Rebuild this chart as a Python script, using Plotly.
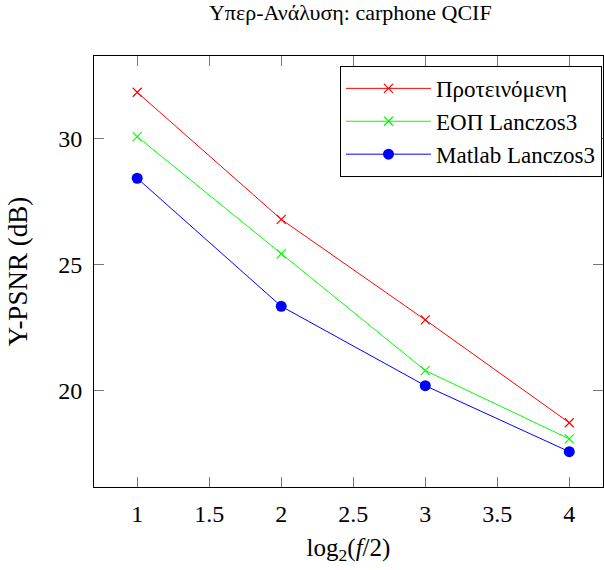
import plotly.graph_objects as go

x_vals = [1, 2, 3, 4]
proposed = [31.85, 26.81, 22.82, 18.74]
eop_lanczos3 = [30.09, 25.44, 20.81, 18.10]
matlab_lanczos3 = [28.44, 23.36, 20.21, 17.59]
x_ticks = [1, 1.5, 2, 2.5, 3, 3.5, 4]
x_tick_labels = ["1", "1.5", "2", "2.5", "3", "3.5", "4"]
y_ticks = [20, 25, 30]

FONT = "Liberation Serif"

fig = go.Figure()
fig.add_trace(go.Scatter(
    x=x_vals, y=proposed, name="Προτεινόμενη", mode="lines+markers",
    line=dict(color="#ff0000", width=1),
    marker=dict(symbol="x-thin", size=9, line=dict(color="#ff0000", width=1.2)),
))
fig.add_trace(go.Scatter(
    x=x_vals, y=eop_lanczos3, name="ΕΟΠ Lanczos3", mode="lines+markers",
    line=dict(color="#00ff00", width=1),
    marker=dict(symbol="x-thin", size=9, line=dict(color="#00ff00", width=1.2)),
))
fig.add_trace(go.Scatter(
    x=x_vals, y=matlab_lanczos3, name="Matlab Lanczos3", mode="lines+markers",
    line=dict(color="#0000ff", width=1),
    marker=dict(symbol="circle", size=11, color="#0000ff"),
))

axis_common = dict(
    showline=True, linecolor="black", linewidth=1, mirror="allticks",
    ticks="inside", ticklen=10, tickwidth=1, tickcolor="#777",
    showgrid=False, zeroline=False,
    tickfont=dict(family=FONT, size=24, color="black"),
)

fig.update_layout(
    width=604, height=570,
    margin=dict(l=94, r=1, t=56, b=83),
    paper_bgcolor="white", plot_bgcolor="white",
    font=dict(family=FONT, size=24, color="black"),
    title=dict(text="Υπερ-Ανάλυση: carphone QCIF", x=0.58, xanchor="center",
               y=0.978, yanchor="middle", font=dict(family=FONT, size=22)),
    xaxis=dict(range=[0.7, 4.234], tickvals=x_ticks, ticktext=x_tick_labels,
               ticklabelstandoff=5,
               title=dict(text="log<sub>2</sub>(<i>f</i>/2)", standoff=12,
                          font=dict(family=FONT, size=25)),
               **axis_common),
    yaxis=dict(range=[16.19, 33.29], tickvals=y_ticks, ticklabelstandoff=6,
               title=dict(text="Y-PSNR (dB)", standoff=22,
                          font=dict(family=FONT, size=27)),
               **axis_common),
    legend=dict(x=0.998, xanchor="right", y=0.977, yanchor="top",
                bordercolor="black", borderwidth=1, bgcolor="white",
                font=dict(family=FONT, size=23), itemwidth=85),
    showlegend=True,
)

fig.write_html("out.html")
